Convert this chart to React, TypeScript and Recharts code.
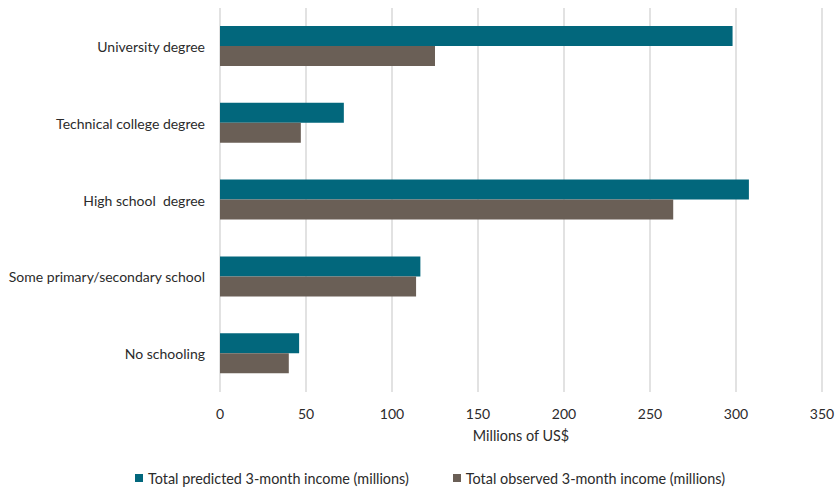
import React from 'react';
import { BarChart, Bar, XAxis, YAxis, CartesianGrid, Legend } from 'recharts';

const categories = [
  'University degree',
  'Technical college degree',
  'High school  degree',
  'Some primary/secondary school',
  'No schooling',
];
const predictedValues = [298, 72, 307.5, 116.5, 46];
const observedValues = [125, 47, 263.5, 114, 40];
const xTicks = [0, 50, 100, 150, 200, 250, 300, 350];
const seriesNames = [
  'Total predicted 3-month income (millions)',
  'Total observed 3-month income (millions)',
];
const axisTitle = 'Millions of US$';

const data = categories.map((c, i) => ({
  category: c,
  predicted: predictedValues[i],
  observed: observedValues[i],
}));

const FONT = 'Lato, "Noto Sans", sans-serif';
const TEXT = '#2b2b2b';
const TEAL = '#02677c';
const BROWN = '#6a5f56';

const YTick = (props: any) => {
  const { x, y, payload } = props;
  return (
    <text
      x={x}
      y={y}
      textAnchor="end"
      dominantBaseline="central"
      fill={TEXT}
      fontSize={14}
      fontFamily={FONT}
      style={{ whiteSpace: 'pre' }}
    >
      {payload.value}
    </text>
  );
};

const renderLegend = (props: any) => {
  const payload = [...(props.payload || [])].sort(
    (a: any, b: any) => seriesNames.indexOf(a.value) - seriesNames.indexOf(b.value)
  );
  return (
    <div
      style={{
        display: 'flex',
        justifyContent: 'flex-start',
        gap: 44,
        fontFamily: FONT,
        fontSize: 14.4,
        color: TEXT,
        height: 22,
        alignItems: 'center',
        paddingLeft: 135,
      }}
    >
      {payload.map((entry: any) => (
        <div key={entry.value} style={{ display: 'flex', alignItems: 'center' }}>
          <span
            style={{
              display: 'inline-block',
              width: 8,
              height: 8,
              background: entry.color,
              marginRight: 5,
            }}
          />
          <span>{entry.value}</span>
        </div>
      ))}
    </div>
  );
};

export default function App() {
  return (
    <div style={{ position: 'absolute', left: 0, top: 0, background: '#fff' }}>
      <BarChart
        width={837}
        height={489}
        data={data}
        layout="vertical"
        margin={{ top: 8, right: 15, left: 0, bottom: 0 }}
        barGap={0}
        barSize={20}
      >
        <CartesianGrid horizontal={false} stroke="#d9d9d9" strokeWidth={1.5} />
        <XAxis
          type="number"
          domain={[0, 350]}
          ticks={xTicks}
          axisLine={false}
          tickLine={false}
          tickSize={6}
          tickMargin={11}
          height={75}
          tick={{ fill: TEXT, fontSize: 14, fontFamily: FONT }}
          label={{
            value: axisTitle,
            position: 'insideBottom',
            offset: 26,
            fill: TEXT,
            fontSize: 14.4,
            fontFamily: FONT,
          }}
        />
        <YAxis
          type="category"
          dataKey="category"
          width={220}
          axisLine={false}
          tickLine={false}
          tickSize={6}
          tickMargin={9}
          tick={<YTick />}
          interval={0}
        />
        <Legend verticalAlign="bottom" content={renderLegend} />
        <Bar dataKey="predicted" name={seriesNames[0]} fill={TEAL} isAnimationActive={false} />
        <Bar dataKey="observed" name={seriesNames[1]} fill={BROWN} isAnimationActive={false} />
      </BarChart>
    </div>
  );
}
